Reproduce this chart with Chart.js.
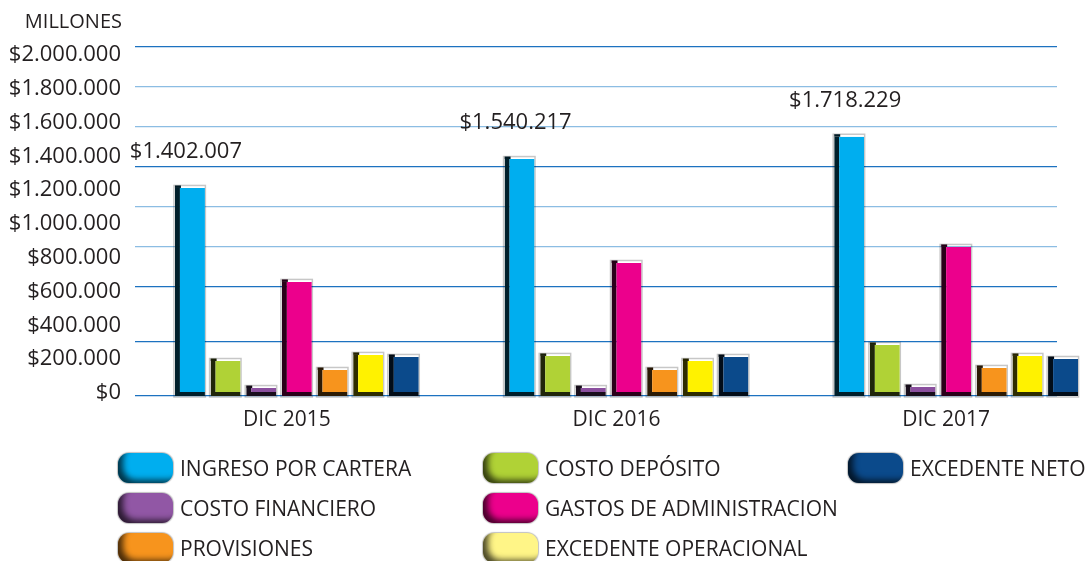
<!DOCTYPE html>
<html>
<head>
<meta charset="utf-8">
<script src="https://cdn.jsdelivr.net/npm/chart.js@4.4.1/dist/chart.umd.min.js"></script>
<style>
html, body { margin: 0; padding: 0; background: #fff; }
#wrap { position: relative; width: 1088px; height: 561px; overflow: hidden; }
#legend {
    position: absolute; left: 118px; top: 448px;
    display: grid; grid-auto-flow: column;
    grid-template-rows: repeat(3, 40px);
    grid-template-columns: 365px 365px auto;
    font-family: 'Open Sans', sans-serif; font-size: 21px; color: #231f20;
}
.item { display: flex; align-items: center; white-space: nowrap; }
.sw {
    width: 55px; height: 30px; border-radius: 11px; margin-right: 7px; flex: none;
    box-shadow: inset 7px -5px 6px -2px rgba(0,0,0,0.7), 0 0 1px 1px rgba(0,0,0,0.25);
}
</style>
</head>
<body>
<div id="wrap">
    <canvas id="chart" width="1088" height="561"></canvas>
    <div id="legend"></div>
</div>
<script>
// === DATA ===
const CATEGORIES = ['DIC 2015', 'DIC 2016', 'DIC 2017'];
const SERIES_NAMES = ['INGRESO POR CARTERA', 'COSTO DEPÓSITO', 'COSTO FINANCIERO',
    'GASTOS DE ADMINISTRACION', 'PROVISIONES', 'EXCEDENTE OPERACIONAL', 'EXCEDENTE NETO'];
const INGRESO = [1231000, 1402000, 1534000];
const COSTO_DEPOSITO = [207000, 237000, 302000];
const COSTO_FINANCIERO = [47000, 47000, 53000];
const GASTOS_ADMIN = [675000, 787000, 882000];
const PROVISIONES = [154000, 154000, 166000];
const EXC_OPERACIONAL = [243000, 207000, 237000];
const EXC_NETO = [231000, 231000, 219000];
const TOTAL_LABELS = ['$1.402.007', '$1.540.217', '$1.718.229'];
const Y_TICKS = [0, 200000, 400000, 600000, 800000, 1000000, 1200000, 1400000, 1600000, 1800000, 2000000];

const SERIES = [INGRESO, COSTO_DEPOSITO, COSTO_FINANCIERO, GASTOS_ADMIN, PROVISIONES, EXC_OPERACIONAL, EXC_NETO];

// === STYLE ===
const COLORS = ['#00AEEF', '#B0D236', '#8A4F9E', '#EC008C', '#F7941D', '#FFF200', '#0B4A8B'];
const LEGEND_COLORS = ['#00AEEF', '#B0D236', '#9157A5', '#EC008C', '#F7941D', '#FFF587', '#0B4A8B'];
const LEGEND_ORDER = [0, 2, 4, 1, 3, 5, 6];
const FONT = "'Open Sans', sans-serif";
const TEXT = '#231f20';
const Y_MAX = 2065000;
// back-wall grid lines (not aligned with the labels in the original)
const GRID_VALUES = [0, 319500, 645000, 881600, 1118300, 1355000, 1591700, 1828000, 2065000];
const GRID_COLORS = ['#1c72c0', '#1c72c0', '#1c72c0', '#8cbde3', '#8cbde3', '#1c72c0', '#8cbde3', '#8cbde3', '#1c72c0'];

function darken(hex, f) {
    const n = parseInt(hex.slice(1), 16);
    const r = Math.round(((n >> 16) & 255) * f), g = Math.round(((n >> 8) & 255) * f), b = Math.round((n & 255) * f);
    return `rgb(${r},${g},${b})`;
}

function money(v) {
    return '$' + String(v).replace(/\B(?=(\d{3})+(?!\d))/g, '.');
}

// === PLUGINS ===
const barDeco = {
    id: 'barDeco',
    beforeDatasetsDraw(chart) {
        const ctx = chart.ctx;
        ctx.save();
        chart.data.datasets.forEach((ds, di) => {
            chart.getDatasetMeta(di).data.forEach(el => {
                const p = el.getProps(['x', 'y', 'base', 'width'], true);
                ctx.strokeStyle = 'rgba(0,0,0,0.22)';
                ctx.lineWidth = 1.5;
                ctx.strokeRect(p.x - p.width / 2 - 1, p.y - 2.5, p.width + 1.5, p.base - p.y + 3.5);
                ctx.fillStyle = darken(COLORS[di], 0.15);
                ctx.fillRect(p.x - p.width / 2, p.y - 2.5, 6, 2.5);
            });
        });
        ctx.restore();
    },
    afterDatasetsDraw(chart) {
        const ctx = chart.ctx;
        ctx.save();
        ctx.font = '22px ' + FONT;
        ctx.fillStyle = TEXT;
        ctx.textAlign = 'center';
        ctx.textBaseline = 'middle';
        chart.getDatasetMeta(0).data.forEach((el, i) => {
            ctx.fillText(TOTAL_LABELS[i], el.x - 4, el.y - 36);
        });
        ctx.font = '20px ' + FONT;
        ctx.textAlign = 'right';
        ctx.fillText('MILLONES', chart.chartArea.left - 13, 22);
        ctx.restore();
    }
};

// === CHART ===
const datasets = SERIES.map((vals, i) => ({
    label: SERIES_NAMES[i],
    data: vals.map((v, j) => ({ x: j, y: v })),
    backgroundColor: COLORS[i],
    borderColor: darken(COLORS[i], 0.18),
    borderWidth: { left: 5, bottom: 4, top: 0, right: 0 },
    borderSkipped: false,
    yAxisID: 'y',
    clip: false
}));

new Chart(document.getElementById('chart'), {
    type: 'bar',
    data: { datasets },
    options: {
        responsive: false,
        animation: false,
        layout: { padding: { top: 47, left: 0, right: 0, bottom: 0 } },
        datasets: { bar: { categoryPercentage: 0.757, barPercentage: 0.84 } },
        plugins: { legend: { display: false }, tooltip: { enabled: false } },
        scales: {
            x: {
                type: 'linear',
                offset: false,
                min: -0.491, max: 2.306,
                afterBuildTicks: s => { s.ticks = CATEGORIES.map((c, i) => ({ value: i })); },
                afterFit: s => { s.height = 165; },
                ticks: {
                    callback: v => CATEGORIES[v],
                    color: TEXT, font: { family: FONT, size: 21 },
                    padding: 11, labelOffset: -10, maxRotation: 0, autoSkip: false
                },
                grid: { display: false, drawTicks: false, offset: false },
                border: { display: false }
            },
            y: {
                position: 'left',
                min: 0, max: Y_MAX,
                afterBuildTicks: s => { s.ticks = Y_TICKS.map(v => ({ value: v })); },
                afterFit: s => { s.width = 135; },
                ticks: {
                    callback: v => money(v),
                    color: TEXT, font: { family: FONT, size: 22 },
                    padding: 14, labelOffset: -3, autoSkip: false
                },
                grid: { display: false, drawTicks: false },
                border: { display: false }
            },
            y2: {
                position: 'right',
                min: 0, max: Y_MAX,
                afterBuildTicks: s => { s.ticks = GRID_VALUES.map(v => ({ value: v })); },
                afterFit: s => { s.width = 31; },
                ticks: { display: false },
                grid: {
                    drawTicks: false,
                    lineWidth: 1.3,
                    color: ctx => GRID_COLORS[ctx.index] || GRID_COLORS[0]
                },
                border: { display: false }
            }
        }
    },
    plugins: [barDeco]
});

// === LEGEND ===
const legend = document.getElementById('legend');
LEGEND_ORDER.forEach(i => {
    const it = document.createElement('div');
    it.className = 'item';
    it.innerHTML = `<span class="sw" style="background:${LEGEND_COLORS[i]}"></span><span>${SERIES_NAMES[i]}</span>`;
    legend.appendChild(it);
});
</script>
</body>
</html>
